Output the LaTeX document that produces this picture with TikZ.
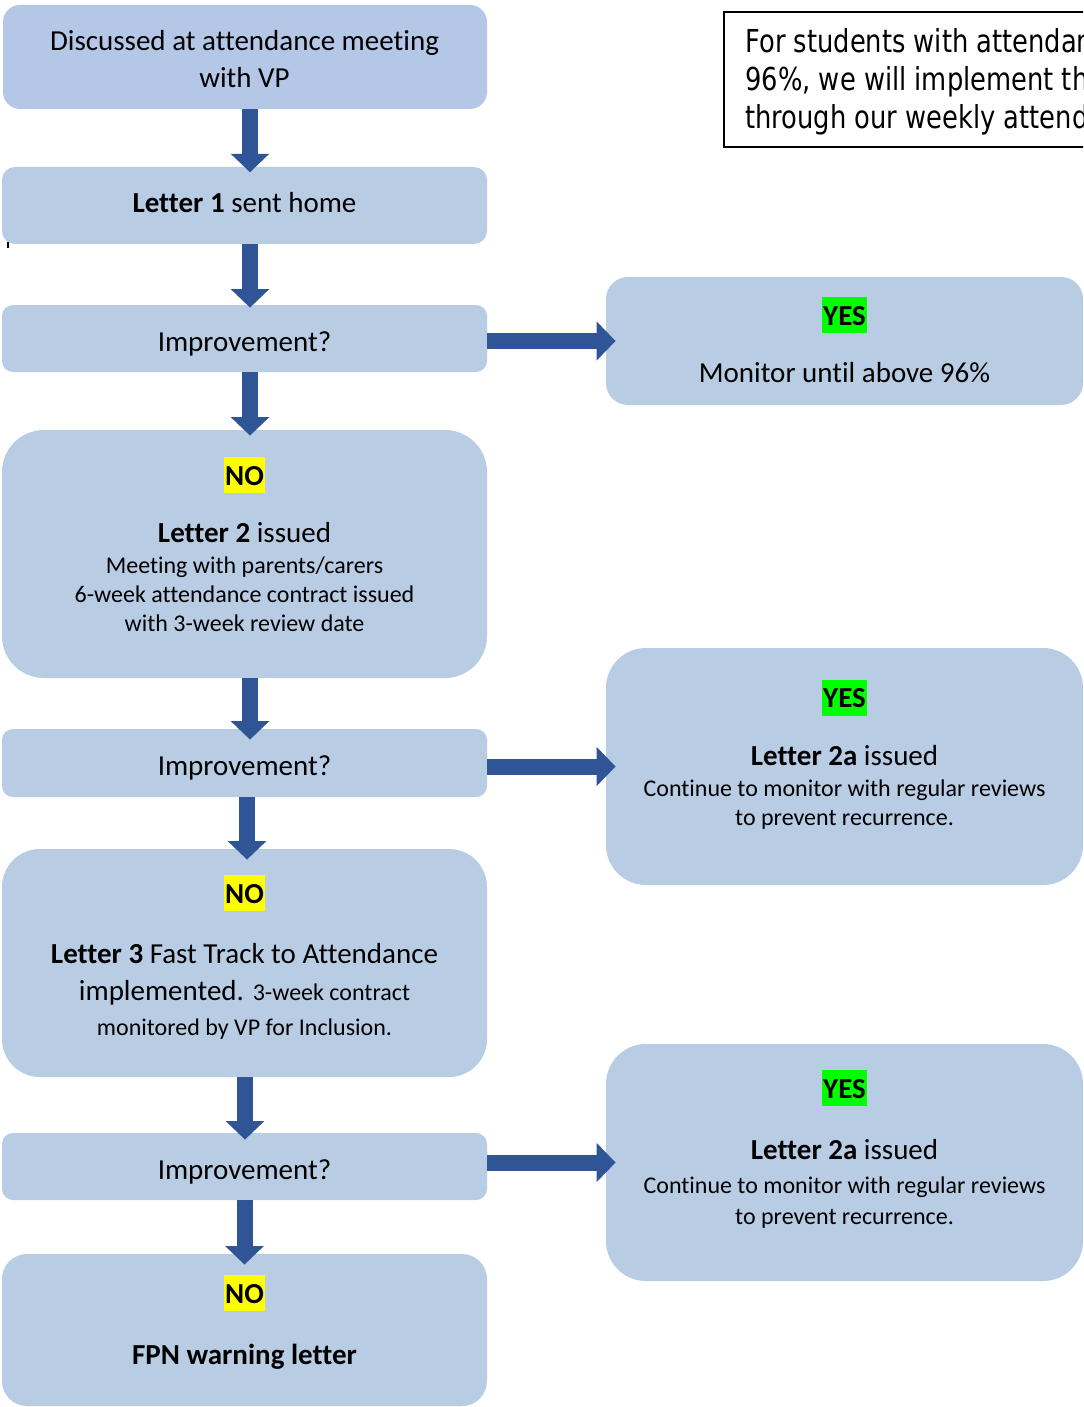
\documentclass[tikz,border=0pt]{standalone}
\usepackage{fontspec}
\setmainfont{Carlito}[Ligatures={NoCommon}]
\newfontfamily\notefont[FakeStretch=0.815,Ligatures={NoCommon}]{DejaVu Sans}
\usetikzlibrary{arrows.meta}
\definecolor{boxtop}{HTML}{B4C7E7}
\definecolor{boxblue}{HTML}{B8CCE4}
\definecolor{arrowblue}{HTML}{2F5597}
\definecolor{hlyellow}{HTML}{FFFF00}
\definecolor{hlgreen}{HTML}{00FF00}
\newcommand{\bigtxt}{\fontsize{14.5pt}{17pt}\selectfont}
\newcommand{\smalltxt}{\fontsize{12pt}{14pt}\selectfont}
\begin{document}
\begin{tikzpicture}[x=0.5pt,y=-0.5pt,
  box/.style={fill=boxblue, draw=none, inner sep=0pt},
  big/.style={anchor=base, inner sep=0pt, font=\bigtxt},
  sml/.style={anchor=base, inner sep=0pt, font=\smalltxt},
  nohl/.style={anchor=base, fill=hlyellow, inner xsep=0.6pt, inner ysep=0pt, text height=14pt, text depth=4pt, font=\bigtxt\bfseries},
  yeshl/.style={nohl, fill=hlgreen},
  varrow/.style={draw=arrowblue, line width=8pt, -{Triangle[width=18.75pt,length=9.25pt]}},
  harrow/.style={draw=arrowblue, line width=8pt, -{Triangle[width=19pt,length=9.5pt]}},
  notetxt/.style={anchor=base west, inner sep=0pt, font=\notefont\fontsize{15.8pt}{19pt}\selectfont},
  notebox/.style={draw=black, line width=1pt, fill=none, inner sep=0pt}
]
\useasboundingbox (0,0) rectangle (1083,1407);
\fill[white] (0,0) rectangle (1083,1407);

% boxes
\node[box, fill=boxtop, minimum width=242pt, minimum height=52pt, rounded corners=8.5pt] (A) at (245,57) {};
\node[box, minimum width=242.5pt, minimum height=38.5pt, rounded corners=6.5pt] (B) at (244.5,205.5) {};
\node[box, minimum width=242.5pt, minimum height=33.5pt, rounded corners=5.5pt] (C) at (244.5,338.5) {};
\node[box, minimum width=238.5pt, minimum height=64pt, rounded corners=11pt] (D) at (844.5,341) {};
\node[box, minimum width=242.5pt, minimum height=124pt, rounded corners=21pt] (E) at (244.5,554) {};
\node[box, minimum width=242.5pt, minimum height=34pt, rounded corners=5.5pt] (F) at (244.5,763) {};
\node[box, minimum width=238.5pt, minimum height=118.5pt, rounded corners=20pt] (G) at (844.5,766.5) {};
\node[box, minimum width=242.5pt, minimum height=114pt, rounded corners=19pt] (H) at (244.5,963) {};
\node[box, minimum width=242.5pt, minimum height=33.5pt, rounded corners=5.5pt] (I) at (244.5,1166.5) {};
\node[box, minimum width=238.5pt, minimum height=118.5pt, rounded corners=20pt] (J) at (844.5,1162.5) {};
\node[box, minimum width=242.5pt, minimum height=76pt, rounded corners=12.5pt] (K) at (244.5,1330) {};

% note box (cut off at the page edge, as in the reference)
\begin{scope}
\clip (0,0) rectangle (1083,1407);
\node[notebox, minimum width=188pt, minimum height=67.5pt] (N) at (912,79.5) {};
\node[notetxt] (n1) at (745,53) {For students with attendan};
\node[notetxt] (n2) at (745,91) {96\%, we will implement th};
\node[notetxt] (n3) at (745,129) {through our weekly attend};
\end{scope}

% stray mark
\fill[black] (7,242) rectangle (9,248);

% texts
\node[big] (a1) at (244.5,50.7) {Discussed at attendance meeting};
\node[big] (a2) at (244.5,88) {with VP};
\node[big] (b1) at (244.5,213) {\textbf{Letter 1} sent home};
\node[big] (c1) at (244.5,351.3) {Improvement?};
\node[yeshl] (d0) at (844.5,325) {YES};
\node[big] (d1) at (844.5,382.5) {Monitor until above 96\%};
\node[nohl] (e0) at (244.5,485) {NO};
\node[big] (e1) at (244.5,542.5) {\textbf{Letter 2} issued};
\node[sml] (e2) at (244.5,573.5) {Meeting with parents/carers};
\node[sml] (e3) at (244.5,602.5) {6-week attendance contract issued};
\node[sml] (e4) at (244.5,631.5) {with 3-week review date};
\node[big] (f1) at (244.5,775.8) {Improvement?};
\node[yeshl] (g0) at (844.5,707.7) {YES};
\node[big] (g1) at (844.5,765) {\textbf{Letter 2a} issued};
\node[sml] (g2) at (844.5,796.5) {Continue to monitor with regular reviews};
\node[sml] (g3) at (844.5,825.5) {to prevent recurrence.};
\node[nohl] (h0) at (244.5,903.3) {NO};
\node[big] (h1) at (244.5,963.3) {\textbf{Letter 3} Fast Track to Attendance};
\node[big] (h2) at (244.5,1000.5) {implemented. {\smalltxt 3-week contract}};
\node[sml] (h3) at (244.5,1035) {monitored by VP for Inclusion.};
\node[big] (i1) at (244.5,1179.3) {Improvement?};
\node[yeshl] (j0) at (844.5,1098.3) {YES};
\node[big] (j1) at (844.5,1159) {\textbf{Letter 2a} issued};
\node[sml] (j2) at (844.5,1193.3) {Continue to monitor with regular reviews};
\node[sml] (j3) at (844.5,1224) {to prevent recurrence.};
\node[nohl] (k0) at (244.5,1303.3) {NO};
\node[big] (k1) at (244.5,1364) {\textbf{FPN warning letter}};

% vertical arrows
\draw[varrow] ([xshift=2.5pt]A.south) -- ([xshift=2.75pt,yshift=-2.85pt]B.north);
\draw[varrow] ([xshift=2.75pt]B.south) -- ([xshift=2.75pt,yshift=-1.5pt]C.north);
\draw[varrow] ([xshift=2.75pt]C.south) -- ([xshift=2.75pt,yshift=-3pt]E.north);
\draw[varrow] ([xshift=2.75pt]E.south) -- ([xshift=2.75pt,yshift=-5.5pt]F.north);
\draw[varrow] ([xshift=1.25pt]F.south) -- ([xshift=1.25pt,yshift=-5.5pt]H.north);
\draw[varrow] ([xshift=0.25pt]H.south) -- ([xshift=0.25pt,yshift=-3.5pt]I.north);
\draw[varrow] (I.south) -- ([yshift=-5.5pt]K.north);

% horizontal arrows
\draw[harrow] (C.east |- D.west) -- ([xshift=5pt]D.west);
\draw[harrow] (F.east |- G.west) -- ([xshift=5pt]G.west);
\draw[harrow] (I.east |- J.west) -- ([xshift=5pt]J.west);
\end{tikzpicture}
\end{document}
